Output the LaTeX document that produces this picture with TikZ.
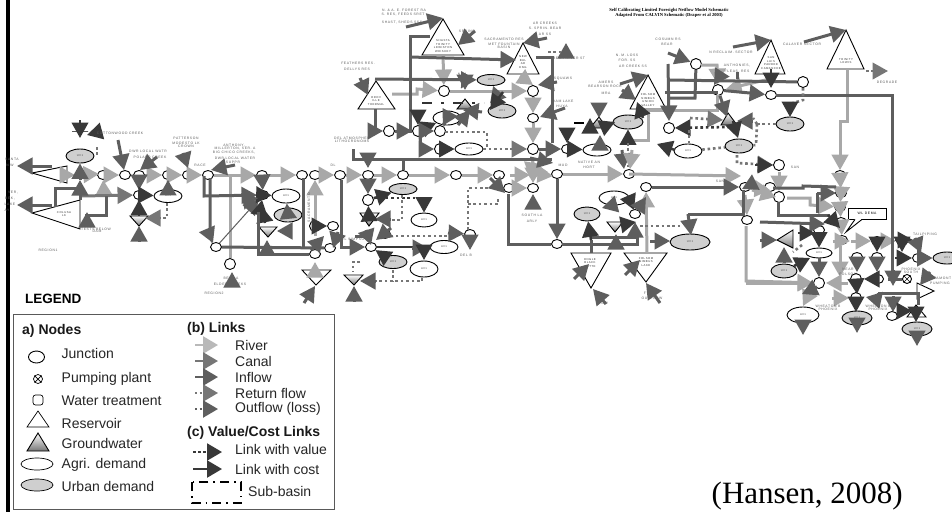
\documentclass[tikz,border=0pt]{standalone}
\usepackage{fontspec}
\setmainfont{Liberation Sans}
\newfontfamily\hanfont{Liberation Serif}
\newfontfamily\tinyfont[LetterSpace=18]{Liberation Sans}
\usetikzlibrary{arrows.meta,shapes.geometric,shapes.misc}
\definecolor{cRiv}{HTML}{A8A8A8}
\definecolor{cCan}{HTML}{767676}
\definecolor{cInf}{HTML}{5E5E5E}
\definecolor{cDark}{HTML}{383838}
\definecolor{cUrb}{HTML}{CFCFCF}
\tikzset{
  hd/.tip={Triangle[length=15.5pt,width=16.5pt]},
  riv/.style={draw=cRiv,line width=3pt,-{hd[fill=cRiv]},color=cRiv},
  can/.style={draw=cCan,line width=3pt,-{hd},color=cCan},
  inf/.style={draw=cInf,line width=3pt,-{hd},color=cInf},
  thin inf/.style={draw=cInf,line width=1pt,-{hd},color=cInf},
  cst/.style={draw=cDark,line width=2.5pt,-{hd},color=cDark},
  ret/.style={draw=cCan,line width=2.6pt,dash pattern=on 2.6pt off 2.8pt,-{hd},color=cCan},
  val/.style={draw=cDark,line width=2.6pt,dash pattern=on 2.6pt off 2.8pt,-{hd},color=cDark},
  rline/.style={draw=cRiv,line width=3pt},
  iline/.style={draw=cInf,line width=3pt},
  dotl/.style={draw=cCan,line width=2.6pt,dash pattern=on 2.6pt off 2.8pt},
  jn/.style={draw=black,fill=white,ellipse,line width=.9pt,minimum width=11pt,minimum height=9pt,inner sep=0pt},
  cir/.style={draw=black,fill=white,circle,line width=.9pt,minimum size=11pt,inner sep=0pt},
  res/.style={draw=black,fill=white,line width=.9pt,line join=miter},
  gw/.style={draw=black,line width=.9pt,top color=white,bottom color=cCan},
  lab/.style={text=cInf,font=\tinyfont\fontsize{3.4}{4}\selectfont,inner sep=0pt,align=center},
  inner/.style={text=black!80,font=\tinyfont\fontsize{2.8}{3.4}\selectfont,inner sep=0pt,align=center,minimum size=6pt},
  lg/.style={font=\fontsize{14}{16}\selectfont,anchor=west,inner sep=0pt,text=black!85},
  lgh/.style={font=\bfseries\fontsize{14}{16}\selectfont,anchor=west,inner sep=0pt,text=black!90},
  sub/.style={draw=black,line width=1.1pt,dash pattern=on 9pt off 5pt on 1.6pt off 5pt},
}
\newcommand\seg[5]{\coordinate (s#2x#3) at (#2,#3);\coordinate (e#4x#5) at (#4,#5);\draw[#1] (s#2x#3) -- (e#4x#5);}
\newcommand\trin[8]{\path[#1] (#3) -- (#4) -- (#5) -- cycle;\node[inner] (#2) at (#6) {#7};}
\begin{document}
\begin{tikzpicture}[x=1pt,y=-1pt]
\useasboundingbox (0,0) rectangle (952,512);
\fill[white] (0,0) rectangle (952,512);
\fill[black] (6,0) rectangle (9.5,512);
% ---------- ellipses
\foreach \n/\x/\y/\a/\b in {aE/168/196/14/6.5,bEw/286/196/14/7,gEc/447/118/14/7,gEd/469/149/14/6,gEe/597/150/14/6,Eg7/688/151/14/7,Ea/424/220/13/7,Eb/444/247/14/6.5,Ec/424/269/14/8,Ed/614/198/15/7,Ee/819/253/13/5,Ef/803/315/16/8}
  \node[draw=black,fill=white,ellipse,line width=.9pt,minimum width=2*\a pt,minimum height=2*\b pt,inner sep=0pt,font=\tinyfont\fontsize{2.8}{3}\selectfont,text=black!70] (\n) at (\x,\y) {A01};
\foreach \n/\x/\y/\a/\b in {u1/80/156/14/7,bEg/288/215/14/7,gEa/491/80/14/5.5,gEb/502/111/14/7,Eg6/628/122/15/7,Eg8/739/146/14/7,Eg9/790/124/14/7,Eh/403/189/14/5.5,Ei/393/262/14/6.5,Ej/587/214/13/7,Ek/690/242/20/8,El/784/271/13/7,Em/857/318/15/7,En/917/329/15/7,Eo/947/258/14/6}
  \node[draw=black,fill=cUrb,ellipse,line width=.9pt,minimum width=2*\a pt,minimum height=2*\b pt,inner sep=0pt,font=\tinyfont\fontsize{2.8}{3}\selectfont,text=black!70] (\n) at (\x,\y) {U01};
% ---------- junctions
\foreach \n/\x/\y in {a1/103/175,a2/125/175,a3/139/175,a4/168/175,a5/188/175,a6/139/195,b1/208/175,b2/262/175,b3/302/175,b4/315/175,b5/340/175,b6/263/195,b7/216/247,b10/333/226,b11/330/248,b12/315/254,c1/368/175,c2/403/175,c3/456/175,c4/499/175,c5/557/174,c6/629/174,c7/509/188,c8/533/188,c10/385/234,c11/470/234,c12/371/247,c13/557/244,d6/533/118,d8/567/149,e3/771/95,e7/840/175,f1/646/187,f2/635/214,f3/745/187,f4/747/220,f6/770/187,f7/841/193,f8/840/207,f9/841/222,f10/842/240,f11/877/241,f12/902/241,f13/857/257,f14/877/257,f16/878/279,f19/819/230,f20/892/316,f21/918/258}
  \node[jn] (\n) at (\x,\y) {};
\foreach \n/\x/\y in {b8/230/264,b9/315/226,c9/368/200,d1/389/131,d2/418/131,d3/440/131,d4/440/149,d5/533/91,d7/533/149,d9/444/91,e1/696/64,e2/718/90,e4/803/82,e5/669/128,e6/779/165,f5/779/197,f15/856/279,f17/856/298,f18/819/283}
  \node[cir] (\n) at (\x,\y) {};
% pumping plant
\node[cir,minimum size=9pt] (pp) at (907,279) {};
\draw (pp.north west) -- (pp.south east) (pp.north east) -- (pp.south west);
% ---------- reservoirs
\trin{res}{R1}{32,173}{67,166}{67,183}{55,175}{ }{}
\trin{res}{R2}{32,213}{80,200}{80,229}{64,214}{COLUSA\\LK}{}
\trin{res}{R3}{443,19}{422,55}{464,55}{443,46}{SHASTA\\TRINITY\\LEWISTON\\WHISKEY}{}
\trin{res}{R4}{523,43}{507,74}{539,74}{523,62}{NEW\\BUL\\AR\\ENG}{}
\trin{res}{R5}{376,81}{358,109}{395,109}{376,101}{OROV\\ILLE\\THERMAL}{}
\trin{res}{R7}{648,75}{630,109}{666,109}{648,100}{FOLSOM\\NIMBUS\\UNION\\VALLEY}{}
\trin{res}{R8}{771,40}{755,74}{785,74}{771,63}{SAN\\LUIS\\PARDEE\\CAMANCHE}{}
\trin{res}{R9}{846,30}{827,69}{864,69}{846,61}{TRINITY\\LEWIS}{}
\trin{res}{I1}{571,253}{611,253}{591,288}{590,263}{ENGLE\\BLACK\\BUTTE}{}
\trin{res}{I2}{624,253}{667,253}{646,282}{646,262}{FOLSOM\\NIMBUS\\LAKE}{}
\trin{res}{I3}{302,270}{331,270}{316,285}{316,275}{DEER}{}
\trin{res}{T1}{934,291}{917,283}{917,299}{925,291}{ }{}
\trin{res}{T2}{916,305}{907,317}{926,317}{916,314}{ }{}
\trin{gw}{G1}{80,131}{72,131}{88,131}{80,134}{ }{}
\trin{gw}{G1b}{139,226}{130,216}{148,216}{139,219}{ }{}
\trin{gw}{G2}{268,237}{259,227}{277,227}{268,231}{ }{}
\trin{gw}{G3}{465,99}{457,109}{473,109}{465,105}{ }{}
\trin{gw}{G4}{599,117}{590,128}{607,128}{599,124}{ }{}
\trin{gw}{G5}{728,113}{721,125}{737,125}{728,120}{ }{}
\trin{gw}{G6}{369,226}{360,213}{379,213}{369,218}{ }{}
\trin{gw}{G7}{354,285}{344,275}{363,275}{353,279}{ }{}
\trin{gw}{G8}{615,232}{607,222}{623,222}{615,226}{ }{}
\trin{gw}{G9}{777,240}{793,230}{793,248}{787,240}{ }{}
% ---------- sub-basin stub
\coordinate (sb1) at (422,103);\coordinate (sb2) at (484,103);
\draw[draw=black!80,line width=2.5pt,dash pattern=on 10pt off 9pt on 3pt off 9pt] (sb1) -- (sb2);
% ---------- callout
\node[draw=black,fill=white,line width=.9pt,minimum width=38pt,minimum height=11pt,inner sep=0pt,font=\tinyfont\fontsize{3.4}{4}\selectfont] (call) at (867,213.5) {WL DEMA};
\coordinate (tail) at (846,232);
\fill[white] (tail) -- (855,219) -- (862,219) -- cycle;
\draw[line width=.9pt] (855,219.4) -- (tail) -- (862,219.4);
% ---------- river links
\foreach \a/\b in {a1/a2,a3/a4,a4/a5,a5/b1,b1/b2,b2/b3,b4/b5,b5/c1,c1/c2,c2/c3,c3/c4,c5/c6,d9/d5,d5/d6,d6/d7,c7/c8,e7/f7,f7/f8,f8/f9,f9/f10}
  \draw[riv] (\a) -- (\b);
\seg{riv}{60}{175}{75}{175}
\seg{riv}{75}{175}{99}{174}
\seg{riv}{510}{175}{530}{175}
\seg{riv}{535}{174}{553}{176}
\seg{riv}{629}{174}{741}{176}
\draw[riv] (R3) ++(0,9) -- (d9);
\coordinate (R5e) at (392,94);\draw[riv] (R5e) -- (417,94) -- (417,89) -- (d9);
\coordinate (R9b) at (847,69);\draw[riv] (R9b) -- (847,121) -- (840,121) -- (e7);
\coordinate (bu) at (315,236);\draw[riv] (bu) -- (b4);
\coordinate (lv) at (230,176);\draw[rline] (lv) -- (b8);
\coordinate (a6r) at (104,196);\draw[riv] (a6r) -- (a1);
\coordinate (li) at (746,226);\draw[riv] (li) -- (746,281) -- (f18);
\coordinate (rf) at (627,140);\draw[rline] (rf) -- (648,140) -- (648,110) -- (717,110) -- (717,95);
\draw[riv] (701,65) -- (717,65) -- (e2);
\seg{riv}{770}{79}{726}{89}
\seg{riv}{745}{195}{747}{215}
\seg{riv}{779}{172}{779}{191}
\seg{riv}{748}{188}{770}{190}
\seg{riv}{752}{190}{776}{197}
\coordinate (k1) at (787,198);\draw[riv] (k1) -- (810,198) -- (810,205) -- (f8);
\seg{riv}{833}{241}{850}{241}
\coordinate (lw1) at (851,241);\draw[riv] (lw1) -- (f11);
\draw[riv] (f11) -- (f12);
\coordinate (lx) at (840,246);\draw[riv] (lx) -- (840,277);
\seg{riv}{832}{298}{849}{298}
\seg{riv}{848}{283}{826}{283}
\seg{riv}{811}{290}{803}{306}
\coordinate (i2top) at (647,253);\draw[riv] (i2top) -- (f1);
\seg{riv}{533}{160}{530}{178}
\seg{riv}{527}{170}{548}{172}
% ---------- canal/inflow left
\coordinate (r2a) at (55,207);\draw[iline] (r2a) -- (55,188) -- (80,188);
\coordinate (r2b) at (80,196);\draw[can] (r2b) -- (a6);
\coordinate (r2c) at (85,215);\draw[iline] (r2c) -- (106,215) -- (106,196);
\seg{inf}{80}{200}{80}{180}
\draw[inf] (e80x180) -- (u1);
\seg{inf}{87}{225}{87}{212}
\seg{inf}{52}{166}{17}{166}
\seg{inf}{52}{205}{17}{205}
\seg{inf}{118}{140}{124}{170}
\seg{inf}{157}{157}{140}{170}
\seg{inf}{183}{153}{188}{168}
\seg{inf}{235}{165}{211}{170}
\draw[inf] (a3) -- (a6);
\seg{cst}{102}{131}{87}{135}
\seg{cst}{80}{120}{80}{138}
\coordinate (d97) at (97,155);\draw[dotl] (d97) -- (97,147);
\draw[cst] (a6) -- (aE);
\draw[cst] (G1b) -- (a6);
\seg{inf}{139}{241}{139}{226}
\coordinate (d167) at (167,203);\draw[ret] (d167) -- (167,218) -- (145,218);
\draw[inf] (aE) -- (a4);
% second block
\coordinate (b1a) at (204,176);\draw[inf] (b1a) -- (204,196) -- (b6);
\coordinate (b1b) at (210,178);\draw[inf] (b1b) -- (210,236) -- (213,243);
\draw[iline] (b7) -- (b11);
\draw[thin inf] (b7) -- (259,199);
\draw[inf] (b8) ++(2,22) -- ++(0,-14);
\draw[inf] (b2) -- (b6);
\draw[cst] (b6) -- (bEw);
\draw[cst] (259,216) -- (b6);
\draw[cst] (G2) ++(-3,-8) -- ++(-3,-16);
\draw[inf] (bEg) -- (bEw);
\seg{inf}{290}{231}{277}{231}
\seg{inf}{267}{255}{267}{240}
\coordinate (lr) at (258,212);\draw[iline] (lr) -- (258,254) -- (b12);
\coordinate (l303) at (303,178);\draw[iline] (l303) -- (303,247);
\draw[cst] (b9) -- (b10);
\seg{inf}{338}{232}{333}{248}
\seg{inf}{311}{250}{324}{236}
\seg{riv}{315}{276}{315}{262}
\seg{inf}{304}{303}{315}{286}
\seg{inf}{248}{200}{258}{198}
\node[lab,rotate=90] (vt) at (309,208) {SACRAMENTO};
% middle block
\coordinate (l1) at (353,149);\draw[iline] (l1) -- (353,159) -- (552,159) ;
\seg{inf}{368}{153}{368}{168}
\seg{inf}{530}{158}{553}{163}
\coordinate (l3) at (430,36);\draw[iline] (l3) -- (410,36) -- (410,133);
\coordinate (l4) at (410,57);\draw[inf] (l4) -- (516,60);
\coordinate (l5) at (536,57);\draw[iline] (l5) -- (552,57) -- (552,143);
\draw[inf] (d7) -- (d8);
\draw[inf] (c5) -- (c13);
\coordinate (l8) at (375,79);\draw[inf] (l8) -- (gEa);
\coordinate (l9) at (375,109);\draw[inf] (l9) -- (375,131) -- (d1);
\draw[inf] (d1) -- (d2);
\seg{inf}{360}{78}{368}{95}
\seg{inf}{406}{27}{443}{18}
\seg{inf}{475}{31}{458}{45}
\seg{inf}{547}{38}{523}{43}
\seg{inf}{566}{56}{566}{43}
\coordinate (ds) at (548,52);\draw[dotl] (ds) -- (562,52);
\seg{inf}{465}{74}{465}{90}
\draw[inf] (gEb) -- (gEa);
\seg{cst}{503}{92}{490}{110}
\seg{inf}{482}{112}{463}{110}
\seg{inf}{458}{125}{470}{110}
\draw[cst] (418,110) -- (d2);
\draw[cst] (d2) -- (gEc);
\draw[inf] (gEc) -- (d3);
\draw[inf] (d2) -- (d3);
\coordinate (d3r) at (445,132);\draw[dotl] (d3r) -- (487,132) -- (487,148);
\coordinate (l10) at (420,136);\draw[inf] (l10) -- (420,149) -- (d4);
\draw[cst] (d4) -- (gEd);
\draw[ret] (gEd) -- (d7);
\seg{cst}{567}{128}{567}{143}
\draw[cst] (d8) -- (gEe);
\seg{inf}{565}{108}{540}{117}
\seg{inf}{557}{82}{538}{85}
\seg{riv}{520}{76}{533}{85}
\draw[riv] (533,172) -- (c8);
% lower middle
\coordinate (lA) at (403,160);\draw[iline] (lA) -- (c2);
\draw[inf] (c1) -- (c9);
\draw[cst] (c9) -- (Eh);
\coordinate (dB) at (375,198);\draw[val] (dB) -- (424,198) -- (Ea);
\coordinate (dA) at (402,195);\draw[dotl] (dA) -- (402,220) -- (392,220);
\seg{inf}{391}{219}{375}{219}
\draw[cst] (G6) -- (c9);
\coordinate (dC) at (447,236);\draw[dotl] (dC) -- (390,236);
\coordinate (gy) at (355,236);\draw[iline] (gy) -- (363,236);
\seg{inf}{366}{230}{371}{245}
\seg{inf}{391}{228}{376}{240}
\coordinate (tl) at (448,233);\draw[inf] (tl) -- (c11);
\draw[inf] (c11) -- (470,250);
\coordinate (dD) at (468,230);\draw[dotl] (dD) -- (468,188) -- (500,188);
\coordinate (dE) at (468,204);\draw[dotl] (dE) -- (498,204) -- (498,197);
\seg{inf}{490}{178}{505}{193}
\coordinate (lB) at (508,194);\draw[iline] (lB) -- (508,244) -- (c13);
\coordinate (b5d) at (341,180);\draw[iline] (b5d) -- (341,247) -- (350,247);
\draw[inf] (350,247) -- (c12);
\coordinate (dk) at (376,247);\draw[draw=cDark,line width=2.6pt] (dk) -- (415,247);
\seg{inf}{412}{248}{428}{248}
\seg{cst}{424}{245}{424}{260}
\draw[cst] (Ei) -- (c12);
\coordinate (dF) at (360,262);\draw[dotl] (dF) -- (353,262) -- (353,272);
\seg{inf}{375}{281}{360}{281}
\coordinate (dG) at (393,270);\draw[dotl] (dG) -- (393,281);
\coordinate (dH2) at (422,278);\draw[dotl] (dH2) -- (422,281) -- (376,281);
\seg{inf}{354}{301}{354}{286}
\seg{inf}{533}{204}{533}{194}
% under the river, centre
\coordinate (lC) at (562,244);\draw[iline] (lC) -- (637,244) -- (637,237) -- (591,237);
\coordinate (i1t) at (591,253);\draw[iline] (i1t) -- (591,240);
\draw[cst] (591,240) -- (Ej);
\seg{inf}{574}{279}{589}{264}
\seg{inf}{606}{304}{593}{289}
\seg{inf}{616}{248}{616}{234}
\seg{inf}{617}{204}{602}{208}
\seg{cst}{620}{225}{636}{222}
\seg{inf}{635}{236}{635}{222}
\seg{cst}{628}{196}{634}{210}
\draw[inf] (f2) -- (646,197);
\coordinate (dZ) at (640,226);\draw[dotl] (dZ) -- (683,226);
\seg{inf}{650}{241}{670}{241}
\seg{inf}{625}{275}{640}{260}
\seg{inf}{660}{303}{646}{283}
% right centre
\seg{cst}{590}{130}{590}{118}
\seg{inf}{599}{104}{599}{118}
\seg{cst}{608}{125}{615}{122}
\draw[cst] (Eg6) ++(0,20) -- (Eg6);
\coordinate (dH) at (628,143);\draw[dotl] (dH) -- (628,168);
\seg{inf}{622}{150}{624}{169}
\seg{riv}{632}{150}{630}{169}
\seg{inf}{600}{148}{600}{135}
\coordinate (dI) at (574,123);\draw[draw=black,line width=2pt,dash pattern=on 10pt off 6pt] (dI) -- (590,123);
\seg{inf}{620}{84}{648}{75}
\seg{inf}{622}{90}{636}{100}
\seg{cst}{643}{118}{637}{102}
\coordinate (l20) at (668,64);\draw[inf] (l20) -- (669,121);
\coordinate (l21) at (668,80);\draw[iline] (l21) -- (e4);
\coordinate (l22) at (665,92);\draw[iline] (l22) -- (718,92);
\coordinate (l23) at (668,98);\draw[iline] (l23) -- (695,98) -- (e1);
\coordinate (l24) at (668,53);\draw[inf] (l24) -- (e1);
\draw[inf] (e2) -- (e3);
\draw[inf] (e2) -- (G5);
\draw[inf] (e3) ++(-50,-21) -- ++(-7,11);
\draw[iline] (737,72) -- (737,79);
\draw[cst] (R8) ++(0,6) -- (771,88);
\seg{inf}{733}{47}{771}{40}
\seg{inf}{804}{42}{846}{30}
\coordinate (e3r) at (776,95);\draw[iline] (e3r) -- (892,95) -- (892,282);
\coordinate (r9r) at (866,71);\draw[ret] (r9r) -- (888,71);
\coordinate (m1) at (803,88);\draw[dotl] (m1) -- (803,100) -- (790,104);
\seg{cst}{790}{102}{790}{117}
\coordinate (m2) at (757,124);\draw[dotl] (m2) -- (Eg9);
\draw[dotl] (m2) -- (753,118);
\draw[dotl] (m2) -- (756,145) -- (Eg8);
\seg{inf}{752}{121}{737}{121}
\coordinate (m3) at (690,118);\draw[ret] (m3) -- (723,120);
\coordinate (m4) at (730,127);\draw[val] (m4) -- (e5);
\coordinate (m5) at (689,130);\draw[dotl] (m5) -- (689,143);
\seg{cst}{733}{121}{738}{138}
\seg{cst}{675}{150}{657}{144}
\draw[dotl] (Eg7) -- (Eg8);
\coordinate (m6) at (737,155);\draw[ret] (m6) -- (737,163) -- (773,165);
\draw[cst] (755,165) -- (e6);
\draw[inf] (f1) -- (f3);
\coordinate (n1) at (743,190);\draw[iline] (n1) -- (743,214) -- (688,214);
\draw[inf] (688,214) -- (691,235);
\coordinate (n0) at (760,222);\draw[inf] (n0) -- (825,224);
\coordinate (n2) at (778,202);\draw[iline] (n2) -- (778,215) -- (830,215);
\coordinate (n3) at (773,188);\draw[iline] (n3) -- (803,188) -- (803,186) -- (836,187);
\coordinate (n4) at (817,193);\draw[iline] (n4) -- (817,213);
\draw[inf] (817,193) -- (836,193);
\seg{cst}{828}{215}{840}{228}
\seg{inf}{750}{185}{742}{189}
% lower right cluster
\coordinate (p0) at (760,240);\draw[inf] (p0) -- (777,240);
\coordinate (p3) at (798,233);\draw[cst] (p3) -- (815,233);
\draw[cst] (f19) -- (Ee);
\draw[inf] (Ee) -- (f18);
\draw[cst] (El) -- (810,258);
\seg{inf}{784}{262}{784}{247}
\coordinate (p2) at (802,245);\draw[dotl] (p2) -- (793,252);
\coordinate (p4) at (746,283);\draw[riv] (p4) -- (813,283);
\seg{inf}{817}{287}{802}{294}
\seg{inf}{803}{320}{803}{335}
\draw[inf] (f13) -- (857,272);
\draw[inf] (f14) -- (877,272);
\seg{cst}{877}{245}{877}{252}
\seg{cst}{902}{245}{902}{252}
\seg{cst}{895}{240}{913}{240}
\seg{inf}{915}{238}{921}{253}
\seg{cst}{895}{258}{912}{258}
\draw[inf] (f21) -- (Eo);
\draw[cst] (f16) -- (864,279);
\draw[cst] (f15) -- (857,294);
\seg{inf}{880}{300}{866}{297}
\draw[cst] (f17) -- (856,312);
\draw[inf] (Em) -- (857,333);
\draw[iline] (pp) -- (888,279);
\seg{inf}{893}{270}{893}{286}
\coordinate (t1) at (878,293);\draw[iline] (t1) -- (918,293) -- (918,305);
\coordinate (t2) at (878,293);\draw[iline] (t2) -- (878,300);
\seg{inf}{893}{296}{893}{312}
\seg{inf}{930}{272}{920}{285}
\seg{cst}{897}{311}{912}{311}
\seg{cst}{916}{306}{916}{322}
\seg{inf}{917}{331}{917}{346}
% ---------- labels
\foreach[count=\i] \x/\y/\t in {12/159/SANTA,10/165/N W,13/193/VER{,},10/199/BEK{,},10/204/LAKE,7/210/AY,120/133/COTTONWOOD CREEK,148/151/DWR LOCAL WATR,150/157/POLAND CREEK,186/138/PATTERSON,186/143/MODESTO LK,186/146/CROWN,234/146/ANTHONY{,},235/149/MILLERTON{,} SER. A,234/153/BIG CHICO CREEKS{,},235/158/DWR LOCAL WATER,233/162/SUPPR,200/165/RACE,96/229/TESTS BELOW,97/231/DAM,48/250/REGION1,214/293/REGION2,231/278/BEAR A,230/284/ELDER CREEKS,333/165/DL,358/63/FEATHERS RES.,357/69/DELLYS RES,352/138/DEL ATMOSPHER,352/141/LITHOCRONOMS,404/10/N. \& A. E. FOREST RA,403/15/S. RES{,} FEEDS SRET,402/23/SHAST{,} SHEDS SSS,467/31/SPRING,504/39/SACRAMENTO RES,504/44/MET FOUNTAIN,504/47/BASIN,545/23/AR CREEKS,545/28/S. SPRIN. BEAR,545/34/AR SS,569/58/BEAR RIVER ST,563/79/SQUAWS,563/101/DAM LAKE,562/106/HUYA,606/82/AMERS,605/86/BEARSON ROCK,606/93/MRA,627/55/N. M. LOSS,627/60/FOR. SS,633/66/AR CREEK SS,462/74/N. M,668/39/COSUMN RS,667/44/BEAR,731/52/N RECLAIM. SECTOR,802/44/CALAVER SECTOR,737/66/ANTHONIES{,},737/71/FLEAS. RES,887/82/DEGRADE,795/167/SAN,353/239/DEL SIMPSON,466/255/DEL B,532/215/SOUTH LA,532/221/ARLY,563/165/MUD,589/162/NATIVE AN,589/167/HORT,602/297/OUT,602/303/FLOW,645/293/F,652/298/OUTFLOW,720/181/SAN,925/234/TAILPIPING,848/269/NEAR,848/274/FOLSOM,828/306/WHEATON B,828/309/PHOENIX,878/306/WHEATON B,878/309/PHOENIX,940/278/ALTAMONT,940/283/PUMPING,911/269/PHOENIX,911/272/SOUTH}
  \node[lab] (t\i) at (\x,\y) {\t};
\node[inner sep=0pt,font=\hanfont\bfseries\fontsize{4.6}{5.2}\selectfont,align=center] (title) at (669,12.5) {Self Calibrating Limited Foresight Netflow Model Schematic\\Adapted From CALVIN Schematic (Draper et al 2003)};
\node[inner sep=0pt,anchor=base east,font=\hanfont\fontsize{31}{33}\selectfont] (han) at (903,503.5) {(Hansen, 2008)};
% ---------- legend
\node[anchor=west,inner sep=0pt,font=\bfseries\fontsize{13.5}{15}\selectfont] (legt) at (25,299) {LEGEND};
\node[draw=black!65,line width=.9pt,anchor=north west,minimum width=321pt,minimum height=195pt,inner sep=0pt] (legbox) at (13,314) {};
\node[lgh] (lga) at (22,331) {a) Nodes};
\node[lgh] (lgb) at (187,329) {(b) Links};
\node[lgh] (lgc) at (187,433) {(c) Value/Cost Links};
\node[jn,minimum width=16pt,minimum height=12pt] (l1n) at (36.5,357) {};
\node[cir,minimum size=9pt,line width=.7pt] (l2n) at (38,379) {};
\draw[line width=.7pt] (l2n.north west) -- (l2n.south east) (l2n.north east) -- (l2n.south west);
\node[draw=black,rounded corners=2.5pt,minimum size=10pt,inner sep=0pt,line width=.7pt] (l3n) at (38,400) {};
\path[draw=black,line width=.7pt,fill=white] (27,427) -- (38,411) -- (49,427) -- cycle;
\path[gw] (27,451) -- (38,433) -- (49,451) -- cycle;
\node[draw=black,ellipse,minimum width=32pt,minimum height=12pt,inner sep=0pt,line width=.7pt] (l6n) at (37,464) {};
\node[draw=black,fill=cUrb,ellipse,minimum width=32pt,minimum height=12pt,inner sep=0pt,line width=.7pt] (l7n) at (37,485) {};
\foreach[count=\i] \y/\t in {353/Junction,379/Pumping plant,401/Water treatment,423/Reservoir,443/Groundwater,465/Agri. demand,486/Urban demand}
  \node[lg] (lgn\i) at (61.5,\y) {\t};
\tikzset{lh/.tip={Triangle[length=15pt,width=17pt]}}
\foreach[count=\i] \y/\s in {345/cRiv!80!white,361/cCan,377/cInf}
  {\coordinate (la\i) at (195,\y);\coordinate (lb\i) at (218,\y);\draw[draw=\s,line width=2.6pt,-{lh[color=\s]}] (la\i) -- (lb\i);}
\foreach[count=\i] \y/\s in {393/cCan,409/cInf}
  {\coordinate (ld\i) at (195,\y);\coordinate (lf\i) at (218,\y);\draw[draw=\s,line width=2.2pt,dash pattern=on 2pt off 2.5pt,-{lh[color=\s]}] (ld\i) -- (lf\i);}
\coordinate (lv1) at (193,452);\coordinate (lv2) at (222,452);\draw[draw=cDark,line width=2.2pt,dash pattern=on 2.5pt off 2.5pt,-{lh[color=cDark]}] (lv1) -- (lv2);
\coordinate (lc1) at (193,469);\coordinate (lc2) at (222,469);\draw[draw=cDark,line width=2.4pt,-{lh[color=cDark]}] (lc1) -- (lc2);
\foreach[count=\i] \y/\t in {345/River,361/Canal,377/Inflow,393/Return flow,409/Outflow (loss),449/Link with value,469/Link with cost}
  \node[lg] (lgl\i) at (235,\y) {\t};
\draw[sub] (192,482) rectangle (241,503);
\node[lg] (lgs) at (248,491) {Sub-basin};
\end{tikzpicture}
\end{document}
